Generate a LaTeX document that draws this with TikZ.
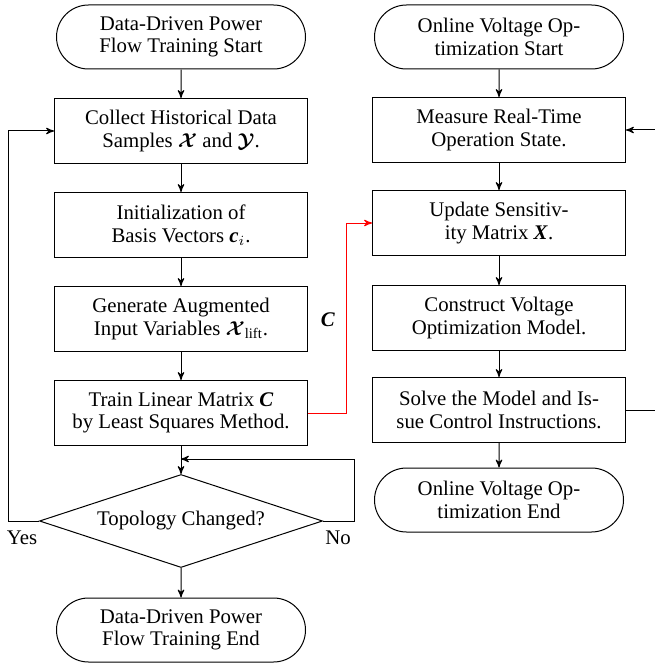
\documentclass[tikz,border=0pt]{standalone}
\usepackage{amsmath}
\usepackage{fontspec}
\setmainfont{Liberation Serif}
\usetikzlibrary{arrows,shapes.geometric,shapes.misc}
\newcommand{\bivec}[1]{\textbf{\textit{#1}}}
\tikzstyle{process}=[rectangle,draw,minimum width=126.5pt,minimum height=32.5pt,inner sep=1pt,align=center]
\tikzstyle{terminal}=[rounded rectangle,draw,minimum width=126.5pt,minimum height=32pt,inner sep=1pt,align=center]
\tikzstyle{decision}=[diamond,draw,aspect=3,minimum width=141.5pt,minimum height=46.5pt,inner sep=0pt]
\tikzstyle{edge} = [draw,->,>=stealth']
\tikzstyle{red edge} = [draw,->,>=stealth',red]
\tikzstyle{weight} = [inner sep=1pt]

\begin{document}
\begin{tikzpicture}[x=0.5pt,y=-0.5pt,line width=0.5pt,font=\fontsize{10.4}{11.2}\selectfont]
	\useasboundingbox (0,0) rectangle (654,668);
	% First we draw the training column
	\node[terminal] (start1) at (181,37) {Data-Driven Power\\Flow Training Start};
	\foreach \pos/\name/\txt in {{(181,131)/collect/Collect Historical Data\\Samples $\boldsymbol{\mathcal{X}}$ and $\boldsymbol{\mathcal{Y}}$.},
		{(181,225)/init/Initialization of\\Basis Vectors \bivec{c}$_i$.},
		{(181,319)/gen/Generate Augmented\\Input Variables $\boldsymbol{\mathcal{X}}_{\mathrm{lift}}$.},
		{(181,413)/train/Train Linear Matrix \bivec{C}\\by Least Squares Method.}}
	\node[process] (\name) at \pos {\txt};
	\node[decision] (topo) at (181,521) {Topology Changed?};
	\node[terminal] (end1) at (181,630) {Data-Driven Power\\Flow Training End};

	% Then the optimization column
	\node[terminal] (start2) at (499,37) {Online Voltage Op-\\timization Start};
	\foreach \pos/\name/\txt in {{(499,130)/measure/Measure Real-Time\\Operation State.},
		{(499,223)/update/Update Sensitiv-\\ity Matrix \bivec{X}.},
		{(499,318)/construct/Construct Voltage\\Optimization Model.},
		{(499,410)/solve/Solve the Model and Is-\\sue Control Instructions.}}
	\node[process] (\name) at \pos {\txt};
	\node[terminal] (end2) at (499,500) {Online Voltage Op-\\timization End};

	% Connect the boxes
	\foreach \source/\dest in {start1/collect, collect/init, init/gen, gen/train, train/topo, topo/end1,
		start2/measure, measure/update, update/construct, construct/solve, solve/end2}
	\path[edge] (\source) -- (\dest);

	% Loops back
	\coordinate (yescorner) at (8,131);
	\coordinate (nocorner) at (354,459);
	\coordinate (join) at (181,459);
	\coordinate (backcorner) at (658,130);
	\coordinate (redcorner) at (346,223);
	\path[edge] (topo.west) -| (yescorner) -- (collect.west);
	\path[edge] (topo.east) -| (nocorner) -- (join);
	\path[edge] (solve.east) -| (backcorner) -- (measure.east);
	\path[red edge] (train.east) -| (redcorner) -- (update.west);

	\node[weight] (clabel) at (328,320) {\bivec{C}};
	\node[weight] (yes) at (22,538) {Yes};
	\node[weight] (no) at (338,538) {No};
\end{tikzpicture}
\end{document}
